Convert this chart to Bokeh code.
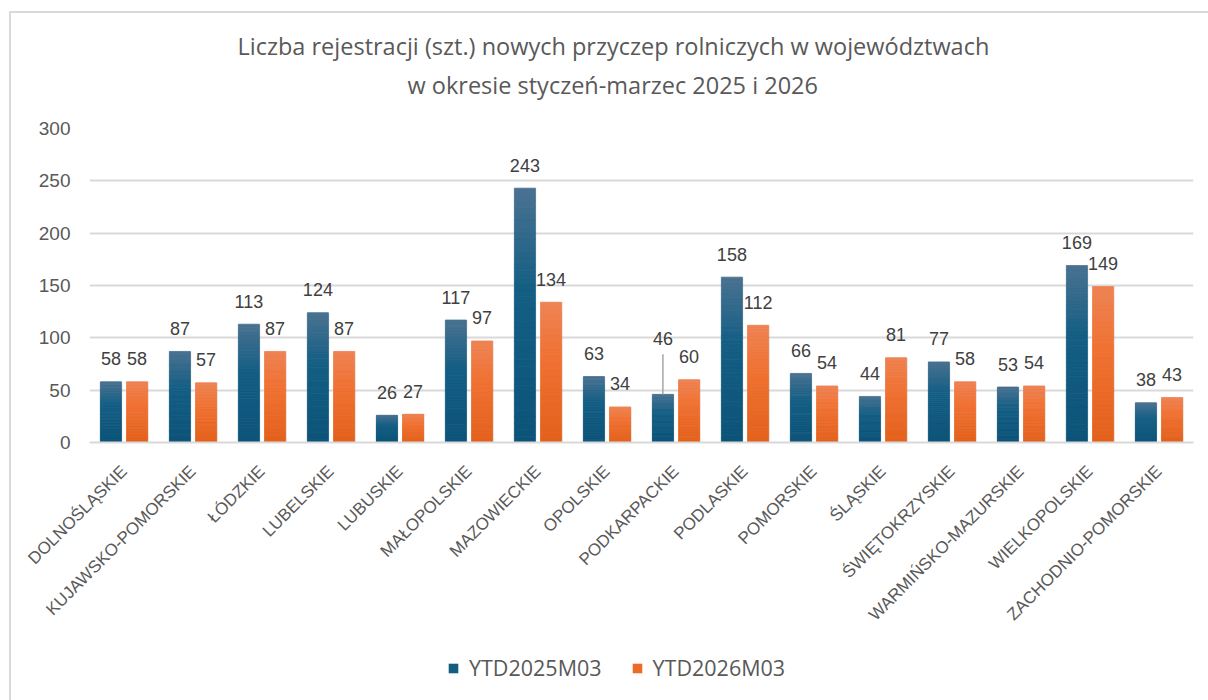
import numpy as np
from bokeh.plotting import figure
from bokeh.layouts import column
from bokeh.models import (ColumnDataSource, FactorRange, FixedTicker, Title, Legend,
                          LegendItem)
from bokeh.transform import dodge
from bokeh.core.properties import value
from bokeh.embed import file_html
from bokeh.resources import INLINE

# ---------------- data ----------------
categories = ["DOLNOŚLĄSKIE", "KUJAWSKO-POMORSKIE", "ŁÓDZKIE", "LUBELSKIE", "LUBUSKIE",
              "MAŁOPOLSKIE", "MAZOWIECKIE", "OPOLSKIE", "PODKARPACKIE", "PODLASKIE",
              "POMORSKIE", "ŚLĄSKIE", "ŚWIĘTOKRZYSKIE", "WARMIŃSKO-MAZURSKIE",
              "WIELKOPOLSKIE", "ZACHODNIO-POMORSKIE"]
ytd2025 = [58, 87, 113, 124, 26, 117, 243, 63, 46, 158, 66, 44, 77, 53, 169, 38]
ytd2026 = [58, 57, 87, 87, 27, 97, 134, 34, 60, 112, 54, 81, 58, 54, 149, 43]
series_names = ["YTD2025M03", "YTD2026M03"]
y_ticks = [0, 50, 100, 150, 200, 250, 300]
title_lines = ["Liczba rejestracji (szt.) nowych przyczep rolniczych w województwach",
               "w okresie styczeń-marzec 2025 i 2026"]

# ---------------- style ----------------
GRID = "#d9d9d9"
TXT = "#595959"
LBL = "#404040"
blue_stops = [(0.0, (74, 114, 145)), (0.4, (20, 94, 132)), (1.0, (12, 83, 120))]
orange_stops = [(0.0, (239, 131, 84)), (0.4, (240, 113, 50)), (1.0, (227, 97, 28))]
legend_colors = ["#135d82", "#ec6b29"]
NSL = 40
OFF = 0.19
BW = 0.305
PX_PER_UNIT = 314 / 300.0
W = 1197
H_MAIN = 629
H_LEG = 58

def interp(stops, t):
    for (t0, c0), (t1, c1) in zip(stops[:-1], stops[1:]):
        if t <= t1:
            f = (t - t0) / (t1 - t0)
            c = [int(round(a + (b - a) * f)) for a, b in zip(c0, c1)]
            return "#%02x%02x%02x" % tuple(c)
    return "#%02x%02x%02x" % stops[-1][1]

def slices(vals, stops):
    cat, bot, top, col = [], [], [], []
    for c, v in zip(categories, vals):
        for k in range(NSL):
            cat.append(c)
            top.append(v * (1 - k / NSL))
            bot.append(v * (1 - (k + 1) / NSL))
            col.append(interp(stops, (k + 0.5) / NSL))
    return ColumnDataSource(dict(cat=cat, bottom=bot, top=top, color=col))

p = figure(width=W, height=H_MAIN, x_range=FactorRange(*categories), y_range=(0, 300),
           output_backend="svg", toolbar_location=None,
           min_border_left=78, min_border_right=15, min_border_top=115,
           min_border_bottom=H_MAIN - 429)
p.outline_line_color = None
p.background_fill_color = "white"
p.border_fill_color = "white"

# grid / axes
p.xgrid.grid_line_color = None
p.ygrid.grid_line_color = GRID
p.ygrid.grid_line_width = 2
p.yaxis.ticker = FixedTicker(ticks=y_ticks)
p.yaxis.axis_line_color = None
p.yaxis.major_tick_line_color = None
p.yaxis.minor_tick_line_color = None
p.yaxis.major_label_standoff = 13
p.yaxis.major_label_text_font = "Liberation Sans"
p.yaxis.major_label_text_font_size = "19px"
p.yaxis.major_label_text_color = TXT

p.xaxis.axis_line_color = GRID
p.xaxis.axis_line_width = 2
p.xaxis.major_tick_line_color = None
p.xaxis.minor_tick_line_color = None
p.xaxis.major_label_orientation = np.pi / 4
p.xaxis.major_label_standoff = 20
p.xaxis.major_label_text_font = "Liberation Sans"
p.xaxis.major_label_text_font_size = "17px"
p.xaxis.major_label_text_color = TXT

# bars with vertical gradient
for vals, stops, off in [(ytd2025, blue_stops, -OFF), (ytd2026, orange_stops, OFF)]:
    shadow = ColumnDataSource(dict(cat=categories, top=vals))
    p.vbar(x=dodge("cat", off + 0.006, range=p.x_range), top="top", bottom=0,
           width=BW + 0.02, source=shadow, fill_color="#000000", fill_alpha=0.08,
           line_color=None)
    src = slices(vals, stops)
    p.vbar(x=dodge("cat", off, range=p.x_range), top="top", bottom="bottom",
           width=BW, source=src, fill_color="color", line_color="color", line_width=0.8)

# data labels
BASE_OFF = -23
label_nudge = {("PODKARPACKIE", 0): -33}
for si, (vals, off) in enumerate([(ytd2025, -OFF), (ytd2026, OFF)]):
    yoff = [BASE_OFF + label_nudge.get((c, si), 0) for c in categories]
    src = ColumnDataSource(dict(cat=categories, y=vals, t=[str(v) for v in vals], yo=yoff))
    p.text(x=dodge("cat", off, range=p.x_range), y="y", text="t", y_offset="yo", source=src,
           text_align="center", text_baseline="middle", text_font=value("Liberation Sans"),
           text_font_size="18px", text_color=LBL)
    lx, ly0, ly1 = [], [], []
    for (c, s), n in label_nudge.items():
        if s == si:
            v = vals[categories.index(c)]
            lx.append(c)
            ly0.append(v)
            ly1.append(v + (-BASE_OFF - n - 16) / PX_PER_UNIT)
    if lx:
        lsrc = ColumnDataSource(dict(cat=lx, y0=ly0, y1=ly1))
        p.segment(x0=dodge("cat", off, range=p.x_range), x1=dodge("cat", off, range=p.x_range),
                  y0="y0", y1="y1", source=lsrc, line_color="#a6a6a6", line_width=1.5)

# titles
p.title.text = title_lines[0]
p.title.align = "left"
p.title.text_font = "Open Sans"
p.title.text_font_size = "23.5px"
p.title.text_font_style = "normal"
p.title.text_color = TXT
p.title.offset = 148
p.title.standoff = 9
spacer = Title(text=" ", text_font_size="1px", standoff=25)
p.add_layout(spacer, "above")
t2 = Title(text=title_lines[1], align="left", text_font="Open Sans", text_font_size="23.5px",
           text_font_style="normal", text_color=TXT, offset=318, standoff=0)
p.add_layout(t2, "above")

# legend (separate strip below the chart)
lf = figure(width=W, height=H_LEG, x_range=(0, 1), y_range=(0, 1), output_backend="svg",
            toolbar_location=None, x_axis_type=None, y_axis_type=None, min_border=0)
lf.outline_line_color = None
lf.xgrid.grid_line_color = None
lf.ygrid.grid_line_color = None
lf.border_fill_color = "white"
lrs = [lf.vbar(x=[5], top=[0], width=0.1, fill_color=c, line_color=None) for c in legend_colors]
legend = Legend(items=[LegendItem(label=n, renderers=[r], index=0) for n, r in zip(series_names, lrs)],
                orientation="horizontal", location=(358, 18),
                label_text_font="Open Sans", label_text_font_size="21.5px", label_text_color=TXT,
                glyph_width=12, glyph_height=12, label_standoff=10, spacing=29,
                border_line_color=None, background_fill_alpha=0, padding=0, margin=0)
lf.add_layout(legend, "center")

layout = column(p, lf, spacing=0, margin=(11, 0, 0, 9),
                styles={"border-left": "2px solid #d9d9d9", "border-top": "2px solid #d9d9d9"})

open("out.html", "w").write(file_html(layout, INLINE))
